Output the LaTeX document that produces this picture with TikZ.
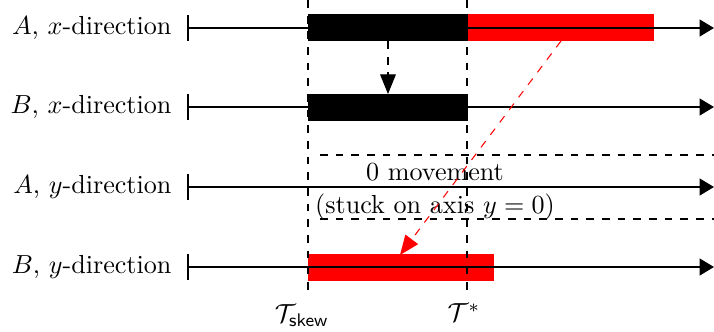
\documentclass[tikz,border=0pt]{standalone}
\usetikzlibrary{arrows.meta,calc}
\begin{document}
\begin{tikzpicture}[x=0.383pt,y=-0.383pt,
  axis/.style={line width=0.4pt,-{Triangle[length=5.5pt,width=6.5pt]}},
  lbl/.style={anchor=east,inner sep=0pt},
  vguide/.style={dashed,line width=0.4pt},
  blackbar/.style={fill=black},
  redbar/.style={fill=red},
  move/.style={dashed,line width=0.4pt,-{Triangle[length=7.5pt,width=6pt]}}]
\useasboundingbox (0,0) rectangle (714,332);
% rows
\foreach \nm/\yy/\t in {ax/28/{$A$, $x$-direction},bx/107/{$B$, $x$-direction},ay/187/{$A$, $y$-direction},by/267/{$B$, $y$-direction}}{
  \node[lbl] (l\nm) at (172,\yy) {\t};
  \coordinate (s\nm) at (188,\yy);
  \coordinate (e\nm) at (714,\yy);
}
% bars
\fill[blackbar] (308,14) rectangle (468,41);
\fill[redbar] (468,14) rectangle (654,41);
\fill[blackbar] (308,94) rectangle (468,121);
\fill[redbar] (308,254) rectangle (494,281);
% axes
\foreach \nm in {ax,bx,ay,by}{
  \draw[axis] (s\nm) -- (e\nm);
  \draw[line width=0.4pt] ($(s\nm)+(0,-13)$) -- ($(s\nm)+(0,13)$);
}
% guide lines
\coordinate (g1t) at (308,0);
\coordinate (g2t) at (467,0);
\node (tskew) at (302,316) {$\mathcal{T}_{\mathsf{skew}}$};
\node (tstar) at (464,313) {$\mathcal{T}^*$};
\draw[vguide] (g1t) -- (308,297);
\draw[vguide] (g2t) -- (467,297);
% stuck box
\coordinate (b1) at (320,155);
\coordinate (b2) at (714,155);
\coordinate (b3) at (320,219);
\coordinate (b4) at (714,219);
\draw[vguide] (b1) -- (b2);
\draw[vguide] (b3) -- (b4);
\node[inner sep=0pt] (zm) at (435,172) {0 movement};
\node[inner sep=0pt] (st) at (435,207) {(stuck on axis $y=0$)};
% movement arrows
\coordinate (m1s) at (388,41);
\coordinate (m1e) at (388,94);
\draw[move] (m1s) -- (m1e);
\coordinate (m2s) at (561,41);
\coordinate (m2e) at (400,255);
\draw[move,red] (m2s) -- (m2e);
\end{tikzpicture}
\end{document}
